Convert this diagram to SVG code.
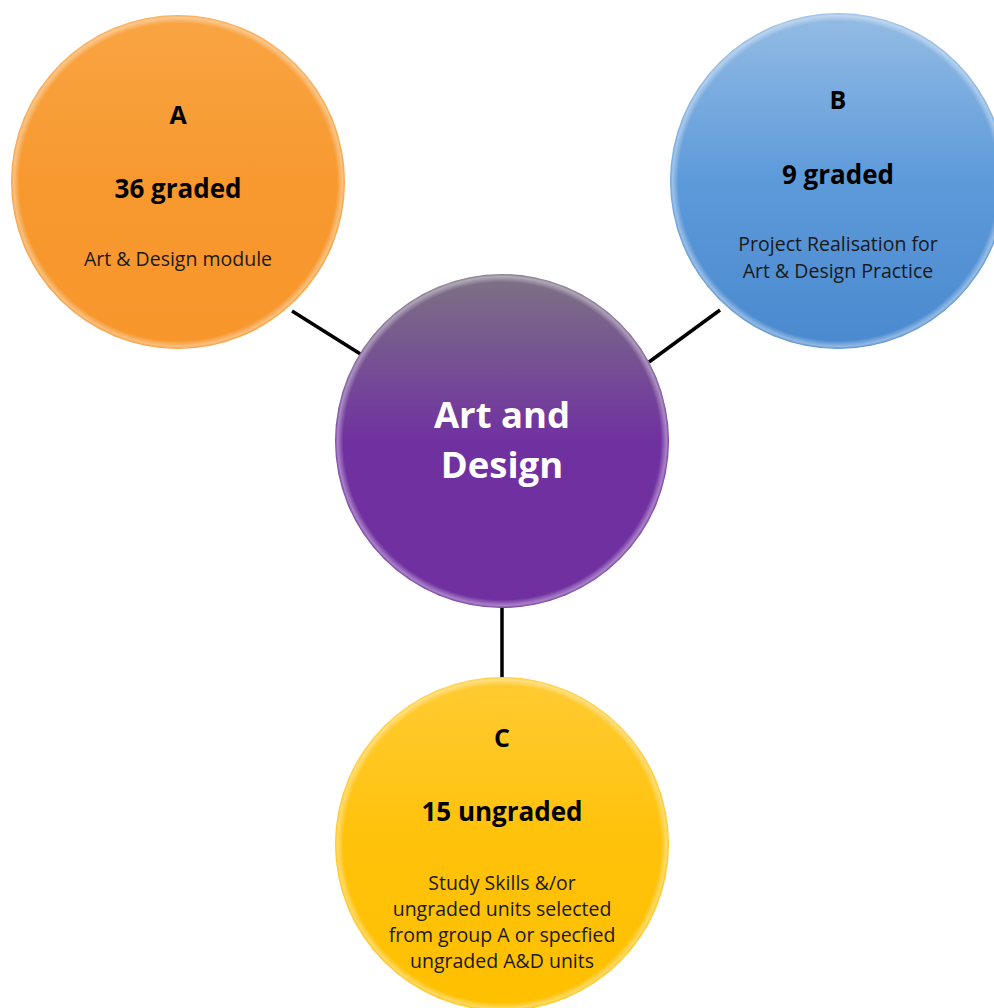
<svg xmlns="http://www.w3.org/2000/svg" width="994" height="1008" viewBox="0 0 994 1008">
<defs>
<linearGradient id="gA" x1="0" y1="0" x2="0" y2="1"><stop offset="0" stop-color="#F9A443"/><stop offset="0.5" stop-color="#F7992F"/><stop offset="1" stop-color="#F7962B"/></linearGradient>
<linearGradient id="gB" x1="0" y1="0" x2="0" y2="1"><stop offset="0" stop-color="#94BCE4"/><stop offset="0.5" stop-color="#5D9ADA"/><stop offset="1" stop-color="#4A89CF"/></linearGradient>
<linearGradient id="gM" x1="0" y1="0" x2="0" y2="1"><stop offset="0" stop-color="#7D7384"/><stop offset="0.5" stop-color="#7031A0"/><stop offset="1" stop-color="#7030A0"/></linearGradient>
<linearGradient id="gC" x1="0" y1="0" x2="0" y2="1"><stop offset="0" stop-color="#FFCB33"/><stop offset="0.5" stop-color="#FFC20A"/><stop offset="1" stop-color="#FFC000"/></linearGradient>
<radialGradient id="rim" cx="0.5" cy="0.5" r="0.5"><stop offset="0.95" stop-color="#fff" stop-opacity="0"/><stop offset="0.985" stop-color="#fff" stop-opacity="0.4"/><stop offset="1" stop-color="#fff" stop-opacity="0.05"/></radialGradient>
</defs>
<style>
.conn{stroke:#000;stroke-width:3.5;fill:none}
.rim{fill:url(#rim)}
.t{font-family:"Open Sans","Liberation Sans",sans-serif;text-anchor:middle}
.h{font-weight:bold;font-size:25px;fill:#000}
.n{font-weight:bold;font-size:26px;fill:#000}
.d{font-size:19.5px;fill:#1a1a1a}
.m{font-weight:bold;font-size:36.5px;fill:#fff}
</style>
<rect width="994" height="1008" fill="#fff"/>
<g id="connectors">
<line class="conn" x1="292" y1="311" x2="362" y2="355"/>
<line class="conn" x1="720" y1="310" x2="649" y2="362"/>
<line class="conn" x1="502" y1="606" x2="502" y2="678"/>
</g>
<g id="nodeA">
<circle cx="178" cy="182" r="167" fill="url(#gA)"/>
<circle class="rim" cx="178" cy="182" r="167"/>
<text class="t h" x="178" y="124">A</text>
<text class="t n" x="178" y="198">36 graded</text>
<text class="t d" x="178" y="266">Art &amp; Design module</text>
</g>
<g id="nodeB">
<circle cx="838" cy="181" r="168" fill="url(#gB)"/>
<circle class="rim" cx="838" cy="181" r="168"/>
<text class="t h" x="838" y="109">B</text>
<text class="t n" x="838" y="184">9 graded</text>
<text class="t d" x="838" y="251">Project Realisation for</text>
<text class="t d" x="838" y="278">Art &amp; Design Practice</text>
</g>
<g id="nodeCenter">
<circle cx="502" cy="441" r="167" fill="url(#gM)"/>
<circle class="rim" cx="502" cy="441" r="167"/>
<text class="t m" x="502" y="428">Art and</text>
<text class="t m" x="502" y="478">Design</text>
</g>
<g id="nodeC">
<circle cx="502" cy="844" r="167" fill="url(#gC)"/>
<circle class="rim" cx="502" cy="844" r="167"/>
<text class="t h" x="502" y="747">C</text>
<text class="t n" x="502" y="821">15 ungraded</text>
<text class="t d" x="502" y="890">Study Skills &amp;/or</text>
<text class="t d" x="502" y="916">ungraded units selected</text>
<text class="t d" x="502" y="942">from group A or specfied</text>
<text class="t d" x="502" y="968">ungraded A&amp;D units</text>
</g>
</svg>
